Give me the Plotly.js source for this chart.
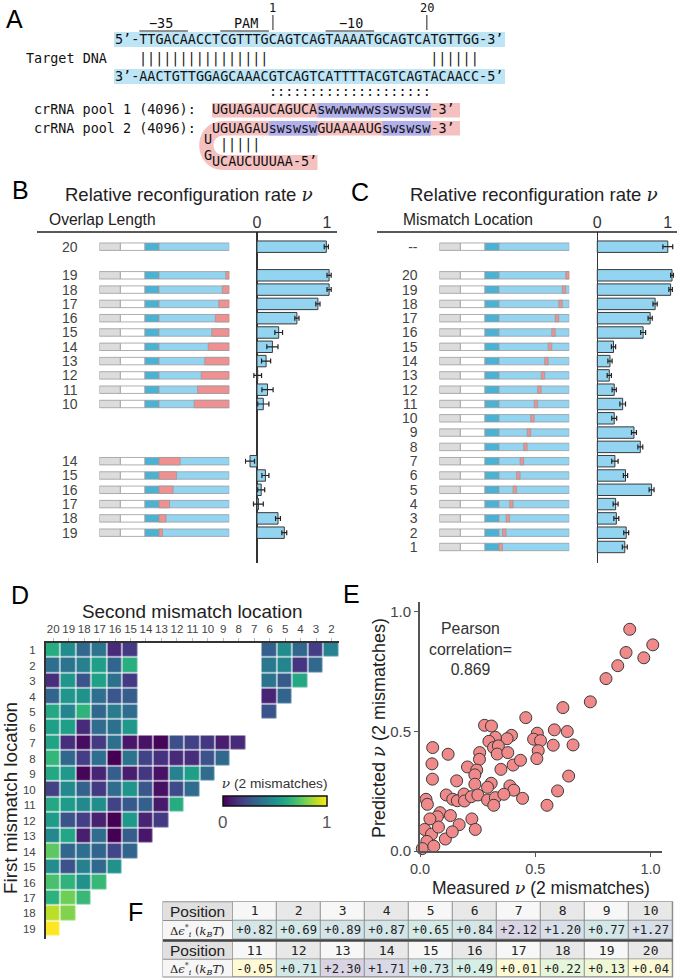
<!DOCTYPE html>
<html><head><meta charset="utf-8">
<script src="https://cdn.plot.ly/plotly-3.0.1.min.js"></script>
<style>html,body{margin:0;padding:0;background:#fff}</style>
</head><body><div id="chart" style="width:677px;height:978px"></div>
<script>
// ===================== DATA =====================
// Panel A
const topStrand = "5’-TTGACAACCTCGTTTGCAGTCAGTAAAATGCAGTCATGTTGG-3’";
const bottomStrand = "3’-AACTGTTGGAGCAAACGTCAGTCATTTTACGTCAGTACAACC-5’";
const pool1Label = "crRNA pool 1 (4096):";
const pool2Label = "crRNA pool 2 (4096):";
const pool1Seq = "UGUAGAUCAGUCAswwwwwwsswswsw-3’";
const pool2Seq = "UGUAGAUswswswGUAAAAUGswswsw-3’";
const pool2Tail = "UCAUCUUUAA-5’";

// Panel B : overlap length
const overlapFull = [20];
const overlapFullNu = [0.99];
const overlapFullErr = [0.03];
const overlapDistal = [19, 18, 17, 16, 15, 14, 13, 12, 11, 10];
const overlapDistalNu = [1.03, 1.03, 0.87, 0.57, 0.31, 0.22, 0.13, 0.01, 0.15, 0.09];
const overlapDistalErr = [0.03, 0.03, 0.03, 0.03, 0.055, 0.08, 0.065, 0.055, 0.08, 0.08];
const overlapProximal = [14, 15, 16, 17, 18, 19];
const overlapProximalNu = [-0.10, 0.12, 0.06, 0.02, 0.30, 0.39];
const overlapProximalErr = [0.065, 0.05, 0.05, 0.07, 0.035, 0.035];

// Panel C : single mismatch location
const mismatchControl = ['--'];
const mismatchControlNu = [1.00];
const mismatchControlErr = [0.07];
const mismatchLocation = [20, 19, 18, 17, 16, 15, 14, 13, 12, 11, 10, 9, 8, 7, 6, 5, 4, 3, 2, 1];
const mismatchNu = [1.06, 1.04, 0.82, 0.75, 0.65, 0.23, 0.18, 0.17, 0.24, 0.36, 0.24, 0.52, 0.61, 0.25, 0.40, 0.77, 0.26, 0.27, 0.41, 0.39];
const mismatchErr = [0.02, 0.025, 0.03, 0.03, 0.035, 0.03, 0.03, 0.03, 0.03, 0.04, 0.035, 0.035, 0.035, 0.045, 0.03, 0.035, 0.035, 0.035, 0.035, 0.035];

// Panel D : double mismatch heatmap
const secondMismatch = [20, 19, 18, 17, 16, 15, 14, 13, 12, 11, 10, 9, 8, 7, 6, 5, 4, 3, 2];
const firstMismatch = [1, 2, 3, 4, 5, 6, 7, 8, 9, 10, 11, 12, 13, 14, 15, 16, 17, 18, 19];
const n = null;
const pad = r => r.concat(Array(19 - r.length).fill(null));
const nu2Mismatch = [
  [0.62, 0.48, 0.34, 0.38, 0.12, 0.17, n, n, n, n, n, n, n, n, 0.30, 0.48, 0.33, 0.18, 0.44],
  [0.36, 0.38, 0.43, 0.56, 0.32, 0.63, n, n, n, n, n, n, n, n, 0.40, 0.45, 0.15, 0.34, n],
  [0.13, 0.52, 0.26, 0.57, 0.37, 0.17, n, n, n, n, n, n, n, n, 0.38, 0.28, 0.60, n, n],
  [0.32, 0.52, 0.50, 0.36, 0.27, 0.29, n, n, n, n, n, n, n, n, 0.10, 0.32, n, n, n],
  [0.60, 0.45, 0.65, 0.33, 0.41, 0.35, n, n, n, n, n, n, n, n, 0.26, n, n, n, n],
  pad([0.56, 0.56, 0.12, 0.35, 0.37, 0.53]),
  pad([0.58, 0.13, 0.03, 0.17, 0.37, 0.06, 0.05, 0.01, 0.24, 0.19, 0.16, 0.08, 0.12]),
  pad([0.66, 0.33, 0.18, 0.36, 0.00, 0.38, 0.20, 0.14, 0.12, 0.13, 0.25, 0.34]),
  pad([0.60, 0.53, 0.01, 0.10, 0.29, 0.08, 0.16, 0.05, 0.44, 0.56, 0.35]),
  pad([0.19, 0.47, 0.31, 0.17, 0.35, 0.52, 0.27, 0.04, 0.23, 0.35]),
  pad([0.60, 0.55, 0.47, 0.49, 0.20, 0.28, 0.30, 0.07, 0.62]),
  pad([0.55, 0.26, 0.18, 0.09, 0.00, 0.53, 0.10, 0.17]),
  pad([0.47, 0.59, 0.08, 0.35, 0.00, 0.29, 0.06]),
  pad([0.75, 0.33, 0.36, 0.32, 0.21, 0.32]),
  pad([0.48, 0.25, 0.43, 0.34, 0.50]),
  pad([0.71, 0.65, 0.50, 0.67]),
  pad([0.64, 0.78, 0.67]),
  pad([0.90, 0.81]),
  pad([1.00])
];

// Panel E : measured vs predicted
const measuredNu = [0.910, 1.010, 0.894, 0.971, 0.858, 0.807, 0.739, 0.620, 0.459,
  0.280, 0.310, 0.583, 0.639, 0.509, 0.493, 0.523, 0.578, 0.664, 0.397, 0.378, 0.327, 0.299,
  0.319, 0.340, 0.335, 0.381, 0.513, 0.507, 0.259, 0.258, 0.055, 0.122, 0.052, 0.054, 0.206,
  0.246, 0.238, 0.351, 0.404, 0.436, 0.159, 0.238, 0.309, 0.293, 0.390, 0.407, 0.645, 0.597,
  0.114, 0.142, 0.162, 0.191, 0.193, 0.223, 0.251, 0.293, 0.327, 0.320, 0.364, 0.445, 0.551,
  0.026, 0.032, 0.087, 0.075, 0.043, 0.132, 0.225,
  0.020, 0.050, 0.030, 0.080, 0.110, 0.010, 0.060, 0.170, 0.140, 0.240];
const predictedNu = [0.926, 0.861, 0.829, 0.807, 0.774, 0.720, 0.623, 0.599, 0.557,
  0.525, 0.522, 0.506, 0.499, 0.492, 0.467, 0.461, 0.442, 0.443, 0.483, 0.469, 0.475, 0.458,
  0.432, 0.439, 0.405, 0.411, 0.419, 0.386, 0.411, 0.383, 0.432, 0.404, 0.364, 0.300, 0.351,
  0.338, 0.318, 0.341, 0.359, 0.379, 0.293, 0.279, 0.283, 0.266, 0.272, 0.254, 0.313, 0.251,
  0.234, 0.216, 0.210, 0.238, 0.209, 0.227, 0.234, 0.213, 0.223, 0.191, 0.237, 0.220, 0.191,
  0.216, 0.195, 0.160, 0.143, 0.134, 0.148, 0.134,
  0.090, 0.070, 0.040, 0.100, 0.050, 0.010, 0.020, 0.110, 0.080, 0.090];
const pearson = '0.869';

// Panel F : table
const positions = [1, 2, 3, 4, 5, 6, 7, 8, 9, 10, 11, 12, 13, 14, 15, 16, 17, 18, 19, 20];
const deltaEps = [0.82, 0.69, 0.89, 0.87, 0.65, 0.84, 2.12, 1.20, 0.77, 1.27,
                  -0.05, 0.71, 2.30, 1.71, 0.73, 0.49, 0.01, 0.22, 0.13, 0.04];

// ===================== HELPERS =====================
const W = 677, H = 978;
const px = x => x / W;
const py = y => 1 - y / H;
const SANS = 'Liberation Sans, Arial, sans-serif';
const MONO = 'DejaVu Sans Mono, monospace';
const NU = '<span style="font-family:DejaVu Serif;font-style:italic">ν</span>';
const annotations = [];
const shapes = [];
function ann(text, x, y, o = {}) {
  annotations.push(Object.assign({
    text, x: px(x), y: py(y), xref: 'paper', yref: 'paper', showarrow: false,
    xanchor: 'center', yanchor: 'middle', borderpad: 0, borderwidth: 0,
    font: { family: SANS, size: 15, color: '#222' }
  }, o));
}
function rect(x0, y0, x1, y1, fill, line, layer) {
  shapes.push({ type: 'rect', xref: 'paper', yref: 'paper', x0: px(x0), x1: px(x1), y0: py(y0), y1: py(y1),
    fillcolor: fill || 'rgba(0,0,0,0)', line: line || { width: 0 }, layer: layer || 'below' });
}
function seg(x0, y0, x1, y1, color, width) {
  shapes.push({ type: 'line', xref: 'paper', yref: 'paper', x0: px(x0), x1: px(x1), y0: py(y0), y1: py(y1),
    line: { color, width }, layer: 'above' });
}
const nb = k => '\u00a0'.repeat(k);

// ===================== PANEL A =====================
const CW = 8.1, X0 = 115, AF = 13.45;
const monoAt = (text, ch, y, extra) => ann(text, X0 + ch * CW, y,
  Object.assign({ xanchor: 'left', font: { family: MONO, size: AF, color: '#111' } }, extra || {}));
const chX = ch => X0 + ch * CW;

rect(114, 32, 505, 47, '#bde5f5');
rect(114, 69, 505, 84, '#bde5f5');
rect(212, 103, 460, 117.5, '#f5c0c0');
rect(chX(25), 103, chX(39), 117.5, '#b0b0ec');
shapes.push({ type: 'path', xref: 'paper', yref: 'paper', layer: 'below', fillcolor: '#f5c0c0', line: { width: 0 },
  path: `M ${px(460)},${py(121)} L ${px(224)},${py(121)} C ${px(191)},${py(121)} ${px(191)},${py(170)} ${px(224)},${py(170)} ` +
        `L ${px(chX(25))},${py(170)} L ${px(chX(25))},${py(155)} L ${px(224)},${py(155)} ` +
        `C ${px(210)},${py(155)} ${px(210)},${py(135.5)} ${px(224)},${py(135.5)} L ${px(460)},${py(135.5)} Z` });
rect(chX(19), 121, chX(25), 135.5, '#b0b0ec');
rect(chX(33), 121, chX(39), 135.5, '#b0b0ec');

ann('A', 14, 19, { font: { family: SANS, size: 25, color: '#000' } });
ann('1', chX(19.5), 8, { font: { family: MONO, size: 12, color: '#111' } });
ann('20', chX(38.5), 8, { font: { family: MONO, size: 12, color: '#111' } });
seg(chX(19.5), 15, chX(19.5), 30, '#222', 1);
seg(chX(38.5), 15, chX(38.5), 30, '#222', 1);
ann('−35', 161, 23, { font: { family: MONO, size: AF, color: '#111' } });
ann('PAM', 246, 23, { font: { family: MONO, size: AF, color: '#111' } });
ann('−10', 351, 23, { font: { family: MONO, size: AF, color: '#111' } });
seg(chX(3), 31, chX(9), 31, '#222', 1);
seg(chX(13), 31, chX(19), 31, '#222', 1);
seg(chX(26), 31, chX(32), 31, '#222', 1);

const GRAYTEXT = { opacity: 0.99 };
monoAt(topStrand, 0, 39.5);
monoAt('Target DNA', -11, 59);
monoAt('|'.repeat(16) + nb(20) + '|'.repeat(6), 3, 59, GRAYTEXT);
monoAt(bottomStrand, 0, 76.5);
monoAt(':'.repeat(20), 19, 92, GRAYTEXT);
monoAt(pool1Label, -10, 110);
monoAt(pool1Seq, 12, 110);
monoAt(pool2Label, -10, 128.5);
monoAt(pool2Seq, 12, 128.5);
monoAt('U', 11, 139);
monoAt('G', 11, 155);
monoAt('|||||', 13, 145, GRAYTEXT);
monoAt(pool2Tail, 12, 162);

// ===================== PANELS B & C =====================
const SEG = { gray: 6, white: 7, pam: 4, guide: 20 };
function stackRows(sizes, gaps) {
  const rows = []; let r = 0;
  sizes.forEach((s, g) => { for (let i = 0; i < s; i++) rows.push(r++); r += (gaps[g] || 0); });
  return rows;
}
const ROWRANGE = [22.12, -1.028];
const BLUE = '#93d5f1', PAM = '#4ab3d5', PINK = '#f09090', GRAY = '#dcdcdc';
const schemLine = { color: '#9a9a9a', width: 0.8 };
function schematic(rows, xa, ya, pinkBase, pinkLen) {
  const t = [];
  const mk = (base, len, color, rws) => ({
    type: 'bar', orientation: 'h', y: rws || rows, x: len, base: base, xaxis: xa, yaxis: ya, width: 0.52,
    marker: { color, line: schemLine }, hoverinfo: 'skip'
  });
  t.push(mk(rows.map(() => 0), rows.map(() => SEG.gray), GRAY));
  t.push(mk(rows.map(() => SEG.gray), rows.map(() => SEG.white), '#ffffff'));
  t.push(mk(rows.map(() => SEG.gray + SEG.white), rows.map(() => SEG.pam), PAM));
  t.push(mk(rows.map(() => 17), rows.map(() => SEG.guide), BLUE));
  const idx = rows.map((r, i) => i).filter(i => pinkLen[i] > 0);
  t.push(mk(idx.map(i => pinkBase[i]), idx.map(i => pinkLen[i]), PINK, idx.map(i => rows[i])));
  return t;
}
function valueBars(rows, vals, errs, xa, ya) {
  return {
    type: 'bar', orientation: 'h', y: rows, x: vals, xaxis: xa, yaxis: ya, width: 0.8,
    marker: { color: BLUE, line: { color: '#3a3a3a', width: 1 } },
    error_x: { type: 'data', array: errs, visible: true, color: '#222', thickness: 1.2, width: 2.5 },
    hoverinfo: 'skip'
  };
}

const bRows = stackRows([overlapFull.length, overlapDistal.length, overlapProximal.length], [1, 3]);
const bLabels = overlapFull.concat(overlapDistal, overlapProximal).map(String);
const bNu = overlapFullNu.concat(overlapDistalNu, overlapProximalNu);
const bErr = overlapFullErr.concat(overlapDistalErr, overlapProximalErr);
const bPinkBase = overlapFull.map(L => 17 + L).concat(overlapDistal.map(L => 17 + L), overlapProximal.map(() => 17));
const bPinkLen = overlapFull.concat(overlapDistal, overlapProximal).map(L => 20 - L);

const cRows = stackRows([mismatchControl.length, mismatchLocation.length], [1]);
const cLabels = mismatchControl.concat(mismatchLocation.map(String));
const cNu = mismatchControlNu.concat(mismatchNu);
const cErr = mismatchControlErr.concat(mismatchErr);
const cPinkBase = [0].concat(mismatchLocation.map(p => 16 + p));
const cPinkLen = [0].concat(mismatchLocation.map(() => 1));

const traces = [];
traces.push(...schematic(bRows, 'x2', 'y', bPinkBase, bPinkLen));
traces.push(valueBars(bRows, bNu, bErr, 'x', 'y'));
traces.push(...schematic(cRows, 'x4', 'y2', cPinkBase, cPinkLen));
traces.push(valueBars(cRows, cNu, cErr, 'x3', 'y2'));

ann('B', 20, 190, { font: { family: SANS, size: 25, color: '#000' } });
ann('C', 360, 192, { font: { family: SANS, size: 25, color: '#000' } });
ann('Relative reconfiguration rate ' + NU, 188.5, 195, { font: { family: SANS, size: 18.5, color: '#222' } });
ann('Relative reconfiguration rate ' + NU, 534, 195, { font: { family: SANS, size: 18.5, color: '#222' } });
ann('Overlap Length', 49, 219, { xanchor: 'left', font: { family: SANS, size: 15.6, color: '#222' } });
ann('Mismatch Location', 403, 219, { xanchor: 'left', font: { family: SANS, size: 15.6, color: '#222' } });
seg(37, 232, 337, 232, '#222', 1.5);
seg(377, 232, 677, 232, '#222', 1.5);

// ===================== PANEL D =====================
traces.push({
  type: 'heatmap', x: secondMismatch, y: firstMismatch, z: nu2Mismatch, xaxis: 'x5', yaxis: 'y3',
  zmin: 0, zmax: 1, colorscale: 'Viridis', xgap: 1.2, ygap: 1.2, hoverinfo: 'skip',
  colorbar: {
    orientation: 'h', x: px(274.7), xanchor: 'center', y: py(780), yanchor: 'top',
    len: 104, lenmode: 'pixels', thickness: 10, outlinewidth: 1.5, outlinecolor: '#111',
    xpad: 0, ypad: 0, tickvals: [0, 1], ticktext: ['0', '1'], ticks: '',
    tickfont: { family: SANS, size: 17, color: '#555' },
    title: { text: NU + ' (2 mismatches)', side: 'top', font: { family: SANS, size: 13.7, color: '#333' } }
  }
});
ann('D', 20, 595, { font: { family: SANS, size: 25, color: '#000' } });
ann('Second mismatch location', 192, 611.5, { font: { family: SANS, size: 18.9, color: '#222' } });
ann('First mismatch location', 10, 798, { textangle: -90, font: { family: SANS, size: 18.8, color: '#222' } });

// ===================== PANEL E =====================
traces.push({
  type: 'scatter', mode: 'markers', x: measuredNu, y: predictedNu, xaxis: 'x6', yaxis: 'y4',
  cliponaxis: false, hoverinfo: 'skip',
  marker: { size: 12, color: '#f08a8a', line: { color: '#3a3a3a', width: 1 } }
});
ann('E', 351.5, 593.5, { font: { family: SANS, size: 25, color: '#000' } });
ann('Pearson<br>correlation=<br>' + pearson, 470, 649, { font: { family: SANS, size: 15.8, color: '#333' } });
ann('Predicted ' + NU + ' (2 mismatches)', 378, 728, { textangle: -90, font: { family: SANS, size: 18, color: '#222' } });
ann('Measured ' + NU + ' (2 mismatches)', 541, 888, { font: { family: SANS, size: 17.5, color: '#222' } });

// ===================== PANEL F =====================
const VIRIDIS = ['#440154', '#482878', '#3e4989', '#31688e', '#26828e', '#1f9e89', '#35b779', '#6ece58', '#b5de2b', '#fde725'];
const hex2rgb = h => [1, 3, 5].map(i => parseInt(h.slice(i, i + 2), 16));
const TINT = 0.2;
const tintScale = VIRIDIS.map((c, i) => {
  const v = hex2rgb(c).map(k => Math.round(255 * (1 - TINT) + k * TINT));
  return [i / 9, `rgb(${v[0]},${v[1]},${v[2]})`];
});
const fmt = v => (v < 0 ? '-' : '+') + Math.abs(v).toFixed(2);
function tableHalf(lo, hi, xa, ya) {
  const pos = positions.slice(lo, hi);
  const eps = deltaEps.slice(lo, hi);
  traces.push({
    type: 'heatmap', x: pos, y: [0], z: [pos.map((p, i) => i % 2)], xaxis: xa, yaxis: ya,
    zmin: 0, zmax: 1, colorscale: [[0, '#f7f7f7'], [1, '#e8e8e8']], showscale: false, xgap: 1, ygap: 1,
    text: [pos.map(String)], texttemplate: '%{text}', textfont: { family: MONO, size: 13, color: '#222' }, hoverinfo: 'skip'
  });
  traces.push({
    type: 'heatmap', x: pos, y: [1], z: [eps.map(e => Math.min(1, Math.exp(-e)))], xaxis: xa, yaxis: ya,
    zmin: 0, zmax: 1, colorscale: tintScale, showscale: false, xgap: 1, ygap: 1,
    text: [eps.map(fmt)], texttemplate: '%{text}', textfont: { family: MONO, size: 12.2, color: '#222' }, hoverinfo: 'skip'
  });
}
tableHalf(0, 10, 'x7', 'y5');
tableHalf(10, 20, 'x8', 'y6');
const TL = 163, TR = 672.7, TC = 232.7;
rect(TL - 0.5, 901.2, TR + 0.5, 977.5, '#8c8c8c');
const EPS_LABEL = '<span style="font-family:DejaVu Serif">Δ<i>ϵ</i><sup>*</sup><sub><i>i</i></sub> (<i>k</i><sub><i>B</i></sub><i>T</i>)</span>';
[[901.7, 920.6, 939.5], [941.5, 959.3, 977]].forEach(([a, b, c]) => {
  rect(TL, a + 0.5, TC - 0.5, b - 0.5, '#e0e0e0');
  rect(TL, b + 0.5, TC - 0.5, c - 0.5, '#f6f6f6');
  ann('Position', (TL + TC) / 2, (a + b) / 2, { font: { family: SANS, size: 15.5, color: '#222' } });
  ann(EPS_LABEL, (TL + TC) / 2, (b + c) / 2 + 0.5, { font: { family: 'DejaVu Serif', size: 11.5, color: '#222' } });
});
seg(TL, 940.5, TR, 940.5, '#444', 2);
ann('F', 135, 912, { font: { family: SANS, size: 25, color: '#000' } });

// ===================== LAYOUT =====================
const hid = o => Object.assign({ showgrid: false, zeroline: false, showline: false, showticklabels: false, ticks: '', fixedrange: true }, o);
const rowAxis = (rows, labels, anchor) => hid({
  domain: [py(563), py(232)], range: ROWRANGE, anchor,
  showticklabels: true, tickvals: rows, ticktext: labels, ticks: 'outside', ticklen: 18, tickcolor: 'rgba(0,0,0,0)',
  tickfont: { family: SANS, size: 14, color: '#444' }
});
const valAxis = (d0, zeroPx, scale, anchor) => hid({
  domain: [px(d0), Math.min(1, px(d0 + 92))], range: [(d0 - zeroPx) / scale, (Math.min(677, d0 + 92) - zeroPx) / scale],
  anchor, side: 'top', showticklabels: true, tickvals: [0, 1], ticktext: ['0', '1'],
  tickfont: { family: SANS, size: 16, color: '#333' },
  zeroline: true, zerolinecolor: '#333', zerolinewidth: 1.5
});
const layout = {
  width: W, height: H, margin: { l: 0, r: 0, t: 0, b: 0, pad: 0 },
  paper_bgcolor: '#ffffff', plot_bgcolor: 'rgba(0,0,0,0)',
  showlegend: false, barmode: 'overlay', font: { family: SANS, color: '#222' },
  xaxis: valAxis(245, 257, 70, 'y'),
  xaxis2: hid({ domain: [px(99.3), px(229.3)], range: [0, 37], anchor: 'y' }),
  yaxis: rowAxis(bRows, bLabels, 'x2'),
  xaxis3: valAxis(585, 597.3, 70.5, 'y2'),
  xaxis4: hid({ domain: [px(439.3), px(569.3)], range: [0, 37], anchor: 'y2' }),
  yaxis2: rowAxis(cRows, cLabels, 'x4'),
  xaxis5: hid({
    domain: [px(45.5), px(339.2)], range: [20.5, 1.5], anchor: 'y3', side: 'top',
    showline: true, linecolor: '#333', linewidth: 1.5, showticklabels: true,
    tickvals: secondMismatch, ticktext: secondMismatch.map(String), ticks: 'outside', ticklen: 3, tickcolor: '#bbb',
    tickfont: { family: SANS, size: 11.5, color: '#444' }
  }),
  yaxis3: hid({
    domain: [py(939), py(642.5)], range: [19.65, 0.5], anchor: 'x5',
    showline: true, linecolor: '#333', linewidth: 1.5, showticklabels: true,
    tickvals: firstMismatch, ticktext: firstMismatch.map(String), ticks: 'outside', ticklen: 6, tickcolor: 'rgba(0,0,0,0)',
    tickfont: { family: SANS, size: 11.5, color: '#444' }
  }),
  xaxis6: hid({
    domain: [px(420), px(662)], range: [0, 1.05], anchor: 'y4',
    showline: true, linecolor: '#555', linewidth: 2, showticklabels: true,
    tickvals: [0, 0.5, 1], ticktext: ['0.0', '0.5', '1.0'], ticks: 'outside', ticklen: 4, tickcolor: '#555',
    tickfont: { family: SANS, size: 14.5, color: '#444' }
  }),
  yaxis4: hid({
    domain: [py(851), py(602)], range: [0, 1.04], anchor: 'x6',
    showline: true, linecolor: '#555', linewidth: 2, showticklabels: true,
    tickvals: [0, 0.5, 1], ticktext: ['0.0', '0.5', '1.0'], ticks: 'outside', ticklen: 4, tickcolor: '#555',
    tickfont: { family: SANS, size: 15, color: '#444' }
  }),
  xaxis7: hid({ domain: [px(TC), px(TR)], range: [0.5, 10.5], anchor: 'y5' }),
  yaxis5: hid({ domain: [py(939.5), py(901.7)], range: [1.5, -0.5], anchor: 'x7' }),
  xaxis8: hid({ domain: [px(TC), px(TR)], range: [10.5, 20.5], anchor: 'y6' }),
  yaxis6: hid({ domain: [py(977), py(941.5)], range: [1.5, -0.5], anchor: 'x8' }),
  annotations, shapes
};
Plotly.newPlot('chart', traces, layout, { displayModeBar: false, staticPlot: true });
</script>
</body></html>
